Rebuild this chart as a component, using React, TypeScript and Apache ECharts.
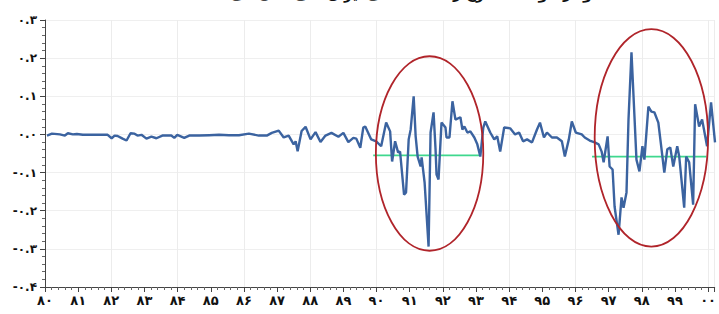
import React, { useEffect, useRef } from "react";
import * as echarts from "echarts";

const titleText = "نمودار: نوسانات نرخ رشد اقتصادی ایران طی سال‌های ۱۳۸۰ تا ۱۴۰۰";

const years: number[] = [
  80.06, 80.21, 80.45, 80.6, 80.69, 80.84, 80.96, 81.14, 81.35, 81.65, 81.89,
  82.01, 82.1, 82.19, 82.34, 82.46, 82.58, 82.7, 82.79, 82.91, 83.06, 83.21,
  83.36, 83.54, 83.81, 83.9, 83.99, 84.2, 84.35, 84.65, 84.95, 85.25, 85.55,
  85.85, 86.15, 86.45, 86.69, 86.84, 87.05, 87.2, 87.35, 87.5, 87.56, 87.62,
  87.74, 87.86, 88.01, 88.16, 88.31, 88.46, 88.64, 88.85, 89.0, 89.15, 89.3,
  89.39, 89.51, 89.6, 89.66, 89.84, 89.99, 90.14, 90.29, 90.41, 90.47, 90.56,
  90.65, 90.71, 90.83, 90.89, 90.97, 91.03, 91.12, 91.18, 91.24, 91.33, 91.36,
  91.45, 91.57, 91.63, 91.72, 91.78, 91.81, 91.87, 91.96, 92.08, 92.11, 92.2,
  92.29, 92.38, 92.53, 92.59, 92.65, 92.74, 92.83, 92.95, 93.04, 93.13, 93.22,
  93.28, 93.43, 93.55, 93.64, 93.73, 93.85, 94.03, 94.18, 94.3, 94.42, 94.54,
  94.69, 94.84, 94.93, 95.05, 95.14, 95.29, 95.44, 95.59, 95.68, 95.8, 95.89,
  96.01, 96.19, 96.28, 96.43, 96.58, 96.7, 96.79, 96.85, 96.97, 97.03, 97.12,
  97.18, 97.3, 97.39, 97.45, 97.54, 97.6, 97.69, 97.78, 97.84, 97.93, 98.02,
  98.08, 98.2, 98.29, 98.38, 98.5, 98.59, 98.68, 98.77, 98.86, 98.95, 99.07,
  99.13, 99.28, 99.34, 99.43, 99.55, 99.61, 99.73, 99.82, 99.97, 100.09, 100.21,
];

const values: number[] = [
  -0.003, 0.002, 0, -0.003, 0.003, 0, 0.001, -0.001, -0.001, -0.001, -0.001,
  -0.01, -0.003, -0.004, -0.011, -0.016, 0.003, 0.002, -0.003, -0.001, -0.011, -0.006,
  -0.01, -0.003, -0.003, -0.009, -0.001, -0.009, -0.003, -0.003, -0.002, -0.001, -0.002,
  -0.002, 0.002, -0.003, -0.003, 0.004, 0.01, -0.008, -0.003, -0.026, -0.018, -0.044,
  0.009, 0.02, -0.013, 0.006, -0.02, -0.003, 0.004, -0.006, 0.004, -0.02, -0.009,
  -0.011, -0.035, 0.018, 0.021, -0.013, -0.018, -0.031, 0.031, 0.008, -0.071, -0.018,
  -0.047, -0.045, -0.158, -0.152, -0.013, 0.013, 0.1, -0.005, -0.058, -0.084, -0.06,
  -0.126, -0.294, 0.005, 0.058, -0.039, -0.105, -0.118, 0.031, 0.018, -0.008, -0.008,
  0.087, 0.039, 0.045, 0.013, 0.021, 0.005, 0.008, -0.008, -0.026, -0.058, 0.018,
  0.034, 0.005, -0.013, -0.005, -0.045, 0.018, 0.016, 0, 0.005, -0.018, -0.013,
  -0.021, 0.013, 0.031, -0.008, 0.005, -0.008, -0.008, -0.018, -0.058, -0.013, 0.034,
  0.005, 0, -0.008, -0.016, -0.021, -0.026, -0.045, -0.073, -0.005, -0.084, -0.092,
  -0.189, -0.263, -0.165, -0.192, -0.152, 0.039, 0.215, 0.047, -0.066, -0.097, -0.031,
  -0.066, 0.073, 0.06, 0.058, 0.031, -0.034, -0.1, -0.039, -0.034, -0.084, -0.031,
  -0.058, -0.192, -0.058, -0.073, -0.184, 0.079, 0.021, 0.039, -0.031, 0.084, -0.021,
];

// green reference segments: [startYear, endYear, level]
const greenSegA: number[] = [89.9, 93.1, -0.055];
const greenSegB: number[] = [96.5, 99.95, -0.058];

// highlight ellipses: [centerYear, centerValue, radiusYears, radiusValue]
const ellipses: number[][] = [
  [91.6, -0.05, 1.62, 0.255],
  [98.29, -0.009, 1.71, 0.285],
];

const faDigits = ["۰", "۱", "۲", "۳", "۴", "۵", "۶", "۷", "۸", "۹"];
const toFa = (s: string) => s.replace(/[0-9]/g, (d) => faDigits[+d]);

export default function App() {
  const ref = useRef<HTMLDivElement>(null);
  useEffect(() => {
    if (!ref.current) return;
    const chart = echarts.init(ref.current, null, { renderer: "svg" });
    const lineData = years.map((y, i) => [y, values[i]]);
    const fontFamily = "DejaVu Sans";
    chart.setOption({
      animation: false,
      backgroundColor: "#ffffff",
      title: {
        text: titleText,
        left: 367,
        textAlign: "center",
        top: -18,
        textStyle: { fontFamily, fontSize: 14, fontWeight: "bold", color: "#111" },
      },
      grid: { left: 45, right: 0, top: 20, bottom: 27 },
      xAxis: [
        {
          type: "value",
          min: 80,
          max: 100.2,
          interval: 1,
          axisLine: { show: true, onZero: false, lineStyle: { color: "#444", width: 1 } },
          axisTick: { show: true, length: 5, lineStyle: { color: "#444" } },
          minorTick: { show: true, splitNumber: 5, length: 3, lineStyle: { color: "#666" } },
          splitLine: { show: false },
          axisLabel: {
            margin: 7,
            fontFamily,
            fontWeight: "bold",
            fontSize: 13,
            color: "#111",
            formatter: (v: number) => {
              const n = Math.round(v) % 100;
              return toFa(n < 10 ? "0" + n : String(n));
            },
          },
        },
        {
          type: "value",
          min: 80,
          max: 100.2,
          interval: 2,
          position: "bottom",
          axisLine: { show: false, onZero: false },
          axisTick: { show: false },
          axisLabel: { show: false },
          splitLine: { show: true, lineStyle: { color: "#ececec", width: 1 } },
        },
      ],
      yAxis: {
        type: "value",
        min: -0.4,
        max: 0.3,
        interval: 0.1,
        axisLine: { show: true, onZero: false, lineStyle: { color: "#444", width: 1 } },
        axisTick: { show: true, length: 5, lineStyle: { color: "#444" } },
        minorTick: { show: true, splitNumber: 5, length: 3, lineStyle: { color: "#666" } },
        splitLine: { show: true, lineStyle: { color: "#efefef", width: 1 } },
        axisLabel: {
          margin: 8,
          fontFamily,
          fontWeight: "bold",
          fontSize: 12,
          color: "#111",
          formatter: (v: number) => toFa(v.toFixed(1)),
        },
      },
      series: [
        {
          type: "line",
          data: lineData,
          showSymbol: false,
          lineStyle: { color: "#3b63a0", width: 2.4 },
          z: 3,
        },
        {
          type: "line",
          data: [
            [greenSegA[0], greenSegA[2]],
            [greenSegA[1], greenSegA[2]],
          ],
          showSymbol: false,
          lineStyle: { color: "#3fd88e", width: 1.8 },
          z: 2,
        },
        {
          type: "line",
          data: [
            [greenSegB[0], greenSegB[2]],
            [greenSegB[1], greenSegB[2]],
          ],
          showSymbol: false,
          lineStyle: { color: "#3fd88e", width: 1.8 },
          z: 2,
        },
        {
          type: "custom",
          data: ellipses,
          z: 4,
          renderItem: (_params: any, api: any) => {
            const c = api.coord([api.value(0), api.value(1)]);
            const s = api.size([api.value(2), api.value(3)]);
            return {
              type: "ellipse",
              shape: { cx: c[0], cy: c[1], rx: s[0], ry: s[1] },
              style: { fill: "none", stroke: "#b0242a", lineWidth: 1.8 },
            };
          },
        },
      ],
    });
    return () => chart.dispose();
  }, []);
  return (
    <div
      ref={ref}
      style={{ position: "fixed", left: 0, top: 0, width: 719, height: 314 }}
    />
  );
}
